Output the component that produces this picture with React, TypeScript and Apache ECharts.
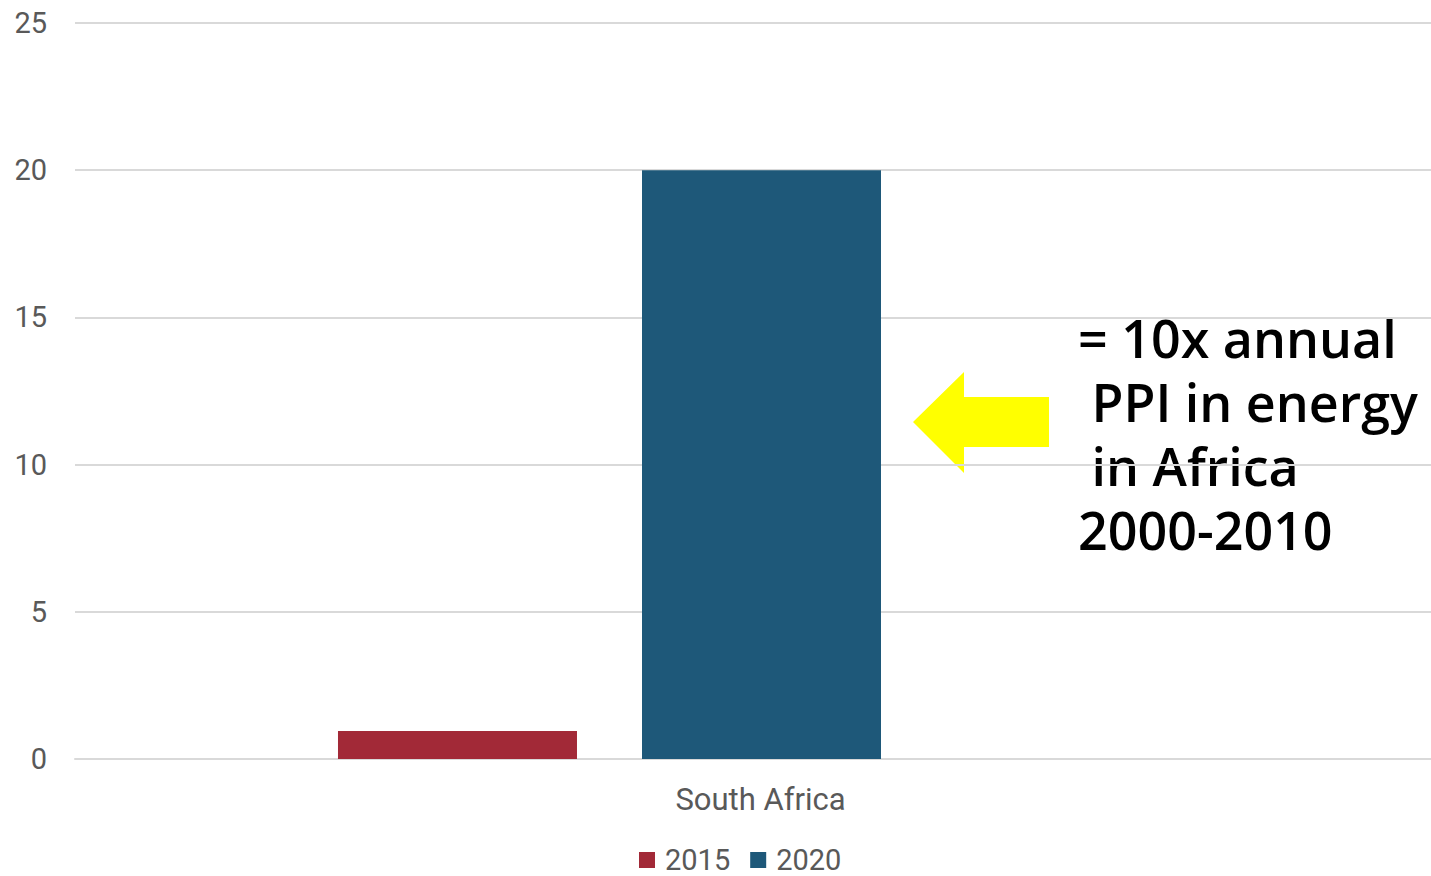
import React, { useEffect, useRef } from "react";
import * as echarts from "echarts";

const categories = ["South Africa"];
const series2015 = [0.95];
const series2020 = [20];
const seriesSpacer: (number | null)[] = [null];
const legendNames = ["2015", "2020"];
const annotationLines = ["= 10x annual", " PPI in energy", " in Africa", "2000-2010"];

export default function App() {
  const ref = useRef<HTMLDivElement>(null);
  useEffect(() => {
    if (!ref.current) return;
    const chart = echarts.init(ref.current, null, { renderer: "svg" });
    const labelColor = "#595959";
    chart.setOption({
      animation: false,
      textStyle: { fontFamily: "Roboto" },
      grid: { left: 75, top: 23, bottom: 117, right: 0, containLabel: false },
      legend: {
        data: legendNames,
        left: 639,
        top: 845,
        padding: 0,
        icon: "rect",
        itemWidth: 16,
        itemHeight: 16,
        itemGap: 20,
        textStyle: { color: labelColor, fontSize: 29, lineHeight: 30, padding: [0, 0, 0, 5], fontFamily: "Roboto" },
      },
      xAxis: {
        type: "category",
        data: categories,
        axisLine: { lineStyle: { color: "#d9d9d9", width: 2 } },
        axisTick: { show: false },
        axisLabel: { color: labelColor, fontSize: 31, margin: 25, padding: [0, 0, 0, 15], fontFamily: "Roboto" },
      },
      yAxis: {
        type: "value",
        min: 0,
        max: 25,
        interval: 5,
        axisLine: { show: false },
        axisTick: { show: false },
        splitLine: { lineStyle: { color: "#d9d9d9", width: 2 } },
        axisLabel: { color: labelColor, fontSize: 29, margin: 28, fontFamily: "Roboto" },
      },
      series: [
        {
          name: "2015",
          type: "bar",
          data: series2015,
          barWidth: 239,
          barGap: "27.2%",
          itemStyle: { color: "#A22937" },
        },
        {
          name: "2020",
          type: "bar",
          data: series2020,
          barWidth: 239,
          barGap: "27.2%",
          itemStyle: { color: "#1E5879" },
        },
        {
          name: "spacer",
          type: "bar",
          data: seriesSpacer,
          barWidth: 222,
          barGap: "27.2%",
          itemStyle: { color: "transparent" },
        },
      ],
      graphic: [
        {
          type: "polygon",
          shape: {
            points: [
              [913, 422],
              [964, 372],
              [964, 397],
              [1049, 397],
              [1049, 447],
              [964, 447],
              [964, 473],
            ],
          },
          style: { fill: "#FFFF00" },
        },
        {
          type: "text",
          left: 1078,
          top: 305,
          style: {
            text: annotationLines.join("\n"),
            fill: "#000",
            font: '600 52px "Open Sans"',
            lineHeight: 64,
          },
        },
      ],
    });
    return () => chart.dispose();
  }, []);
  return <div ref={ref} style={{ width: 1431, height: 876, position: "absolute", left: 0, top: 0 }} />;
}
